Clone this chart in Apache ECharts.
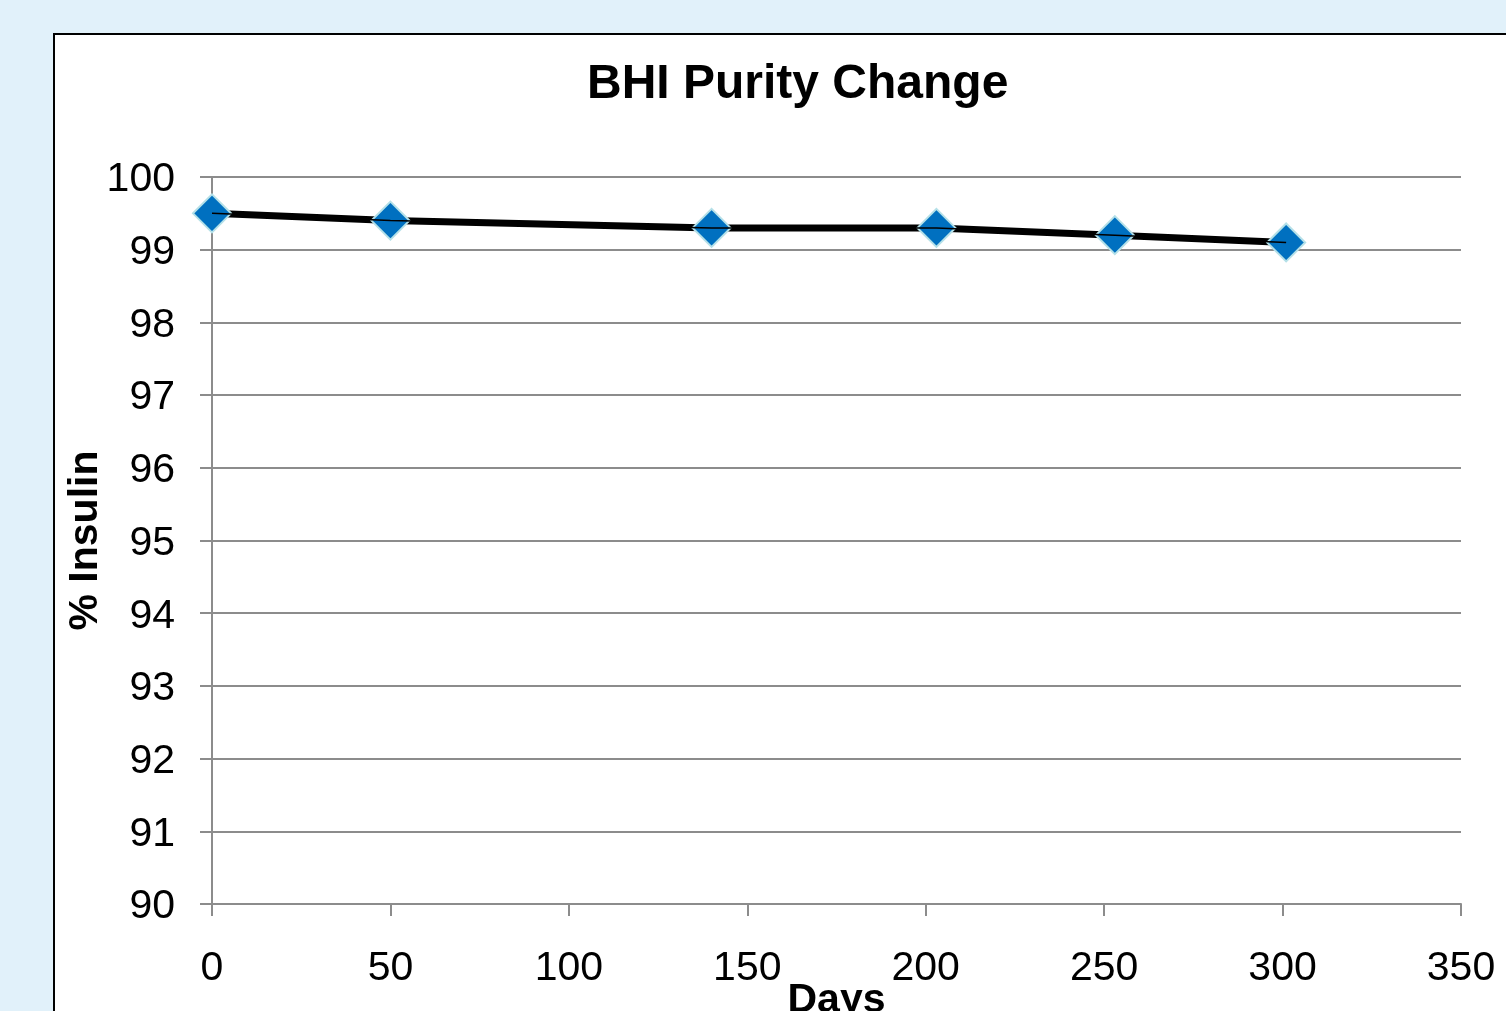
<!DOCTYPE html>
<html>
<head>
<meta charset="utf-8">
<script src="https://cdn.jsdelivr.net/npm/echarts@6/dist/echarts.min.js"></script>
<style>
html,body{margin:0;padding:0;background:#e1f1fa;}
#c{width:1506px;height:1011px;}
</style>
</head>
<body>
<div id="c"></div>
<script>
const titleText = 'BHI Purity Change';
const xName = 'Days';
const yName = '% Insulin';
const days = [0, 50, 140, 203, 253, 301];
const purity = [99.5, 99.4, 99.3, 99.3, 99.2, 99.1];

const pts = days.map((d, i) => [d, purity[i]]);
const chart = echarts.init(document.getElementById('c'));
const font = 'Liberation Sans, Arial, sans-serif';
chart.setOption({
  backgroundColor: '#e1f1fa',
  animation: false,
  graphic: [{
    type: 'rect', z: -10,
    shape: {x: 54, y: 34, width: 1500, height: 1000},
    style: {fill: '#ffffff', stroke: '#000000', lineWidth: 2}
  }],
  title: {
    text: titleText, left: 582, top: 56,
    textStyle: {fontFamily: font, fontWeight: 'bold', fontSize: 48, color: '#000'}
  },
  grid: {left: 212, right: 45, top: 177, bottom: 107, outerBoundsMode: 'none', containLabel: false},
  xAxis: {
    type: 'value', min: 0, max: 350, interval: 50,
    name: xName, nameLocation: 'middle', nameGap: 76, nameMoveOverlap: false,
    nameTextStyle: {fontFamily: font, fontWeight: 'bold', fontSize: 41, color: '#000'},
    axisLine: {show: true, lineStyle: {color: '#8c8c8c', width: 2}},
    axisTick: {show: true, length: 12, lineStyle: {color: '#8c8c8c', width: 2}},
    axisLabel: {fontFamily: font, fontSize: 41, color: '#000', margin: 44},
    splitLine: {show: false}
  },
  yAxis: {
    type: 'value', min: 90, max: 100, interval: 1,
    name: yName, nameLocation: 'middle', nameGap: 106, nameMoveOverlap: false,
    nameTextStyle: {fontFamily: font, fontWeight: 'bold', fontSize: 41, color: '#000'},
    axisLine: {show: true, lineStyle: {color: '#8c8c8c', width: 2}},
    axisTick: {show: true, length: 12, lineStyle: {color: '#8c8c8c', width: 2}},
    axisLabel: {
      color: '#000', margin: 37,
      formatter: '{a|{value}}',
      rich: {a: {fontFamily: font, fontSize: 41, color: '#000', padding: [6, 0, 0, 0]}}
    },
    splitLine: {show: true, lineStyle: {color: '#8c8c8c', width: 2}}
  },
  series: [{
    type: 'line', data: pts, z: 2,
    lineStyle: {color: '#000', width: 7},
    symbol: 'diamond', symbolSize: 38,
    itemStyle: {color: '#0070c0', borderColor: '#b4e0e8', borderWidth: 2}
  }, {
    type: 'line', data: pts, z: 5, symbol: 'none',
    lineStyle: {color: '#000', width: 1.5},
    silent: true
  }]
});
</script>
</body>
</html>
